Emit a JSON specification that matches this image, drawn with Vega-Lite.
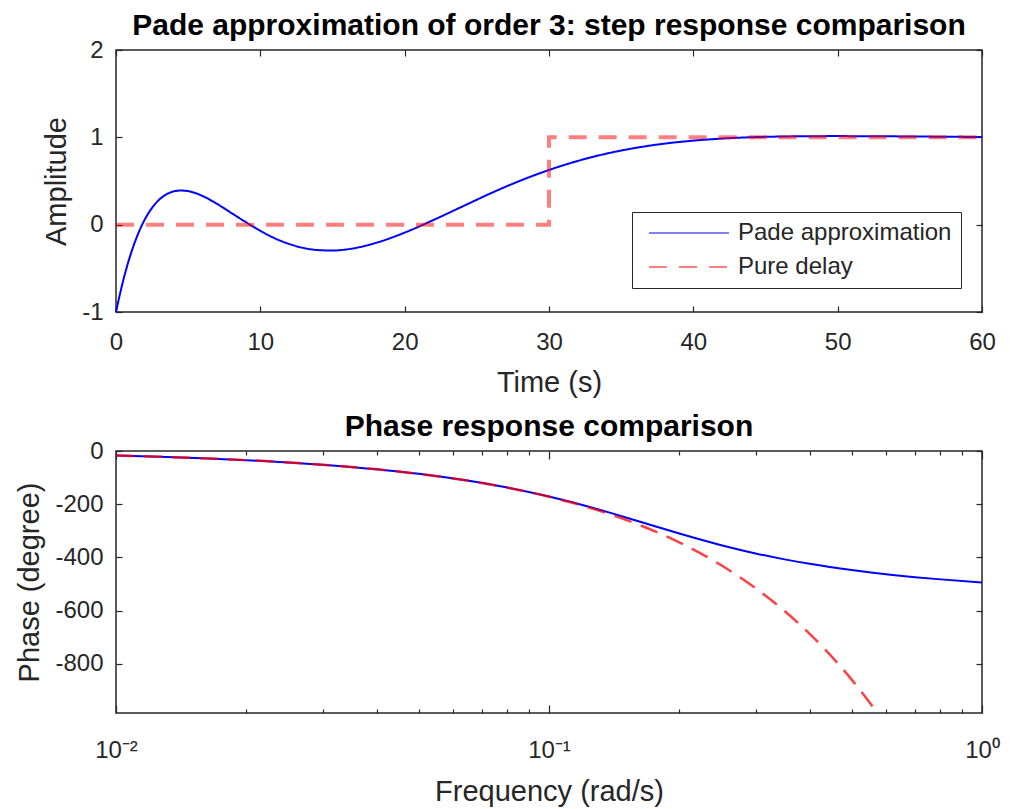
{
  "$schema": "https://vega.github.io/schema/vega-lite/v6.json",
  "background": "white",
  "padding": {"left": 15, "top": 10, "right": 10, "bottom": 5},
  "datasets": {
    "step": [
      {"series": "Pade approximation", "n": 0, "t": 0, "y": -1},
      {"series": "Pade approximation", "n": 1, "t": 0.25, "y": -0.811},
      {"series": "Pade approximation", "n": 2, "t": 0.5, "y": -0.639},
      {"series": "Pade approximation", "n": 3, "t": 0.75, "y": -0.485},
      {"series": "Pade approximation", "n": 4, "t": 1, "y": -0.348},
      {"series": "Pade approximation", "n": 5, "t": 1.5, "y": -0.117},
      {"series": "Pade approximation", "n": 6, "t": 2, "y": 0.061},
      {"series": "Pade approximation", "n": 7, "t": 2.5, "y": 0.193},
      {"series": "Pade approximation", "n": 8, "t": 3, "y": 0.287},
      {"series": "Pade approximation", "n": 9, "t": 3.5, "y": 0.348},
      {"series": "Pade approximation", "n": 10, "t": 4, "y": 0.381},
      {"series": "Pade approximation", "n": 11, "t": 4.5, "y": 0.391},
      {"series": "Pade approximation", "n": 12, "t": 5, "y": 0.384},
      {"series": "Pade approximation", "n": 13, "t": 6, "y": 0.328},
      {"series": "Pade approximation", "n": 14, "t": 7, "y": 0.238},
      {"series": "Pade approximation", "n": 15, "t": 8, "y": 0.133},
      {"series": "Pade approximation", "n": 16, "t": 9, "y": 0.028},
      {"series": "Pade approximation", "n": 17, "t": 10, "y": -0.071},
      {"series": "Pade approximation", "n": 18, "t": 11, "y": -0.156},
      {"series": "Pade approximation", "n": 19, "t": 12, "y": -0.221},
      {"series": "Pade approximation", "n": 20, "t": 13, "y": -0.267},
      {"series": "Pade approximation", "n": 21, "t": 14, "y": -0.291},
      {"series": "Pade approximation", "n": 22, "t": 15, "y": -0.296},
      {"series": "Pade approximation", "n": 23, "t": 16, "y": -0.283},
      {"series": "Pade approximation", "n": 24, "t": 18, "y": -0.209},
      {"series": "Pade approximation", "n": 25, "t": 20, "y": -0.091},
      {"series": "Pade approximation", "n": 26, "t": 22, "y": 0.054},
      {"series": "Pade approximation", "n": 27, "t": 24, "y": 0.208},
      {"series": "Pade approximation", "n": 28, "t": 26, "y": 0.362},
      {"series": "Pade approximation", "n": 29, "t": 28, "y": 0.503},
      {"series": "Pade approximation", "n": 30, "t": 30, "y": 0.626},
      {"series": "Pade approximation", "n": 31, "t": 32, "y": 0.730},
      {"series": "Pade approximation", "n": 32, "t": 34, "y": 0.814},
      {"series": "Pade approximation", "n": 33, "t": 36, "y": 0.879},
      {"series": "Pade approximation", "n": 34, "t": 38, "y": 0.928},
      {"series": "Pade approximation", "n": 35, "t": 40, "y": 0.962},
      {"series": "Pade approximation", "n": 36, "t": 42, "y": 0.986},
      {"series": "Pade approximation", "n": 37, "t": 44, "y": 1.001},
      {"series": "Pade approximation", "n": 38, "t": 46, "y": 1.009},
      {"series": "Pade approximation", "n": 39, "t": 48, "y": 1.013},
      {"series": "Pade approximation", "n": 40, "t": 50, "y": 1.014},
      {"series": "Pade approximation", "n": 41, "t": 52, "y": 1.013},
      {"series": "Pade approximation", "n": 42, "t": 55, "y": 1.010},
      {"series": "Pade approximation", "n": 43, "t": 58, "y": 1.006},
      {"series": "Pade approximation", "n": 44, "t": 60, "y": 1.004},
      {"series": "Pure delay", "n": 0, "t": 0, "y": 0},
      {"series": "Pure delay", "n": 1, "t": 30, "y": 0},
      {"series": "Pure delay", "n": 2, "t": 30, "y": 1},
      {"series": "Pure delay", "n": 3, "t": 60, "y": 1}
    ],
    "phase": [
      {"w": 0.01, "pade": -17.19, "delay": -17.19},
      {"w": 0.0126, "pade": -21.66, "delay": -21.66},
      {"w": 0.0158, "pade": -27.16, "delay": -27.16},
      {"w": 0.02, "pade": -34.39, "delay": -34.38},
      {"w": 0.025, "pade": -42.97, "delay": -42.97},
      {"w": 0.0316, "pade": -54.32, "delay": -54.32},
      {"w": 0.04, "pade": -68.75, "delay": -68.75},
      {"w": 0.05, "pade": -85.94, "delay": -85.94},
      {"w": 0.063, "pade": -108.26, "delay": -108.29},
      {"w": 0.079, "pade": -135.62, "delay": -135.79},
      {"w": 0.1, "pade": -171.04, "delay": -171.89},
      {"w": 0.126, "pade": -213.16, "delay": -216.58},
      {"w": 0.14, "pade": -234.5, "delay": -240.64},
      {"w": 0.158, "pade": -260.1, "delay": -271.58},
      {"w": 0.178, "pade": -285.8, "delay": -305.96},
      {"w": 0.2, "pade": -310.4, "delay": -343.77},
      {"w": 0.25, "pade": -354.2, "delay": -429.72},
      {"w": 0.3, "pade": -385.0, "delay": -515.66},
      {"w": 0.35, "pade": -407.4, "delay": -601.6},
      {"w": 0.4, "pade": -424.2, "delay": -687.55},
      {"w": 0.5, "pade": -447.6, "delay": -859.44},
      {"w": 0.56, "pade": -457.6, "delay": -962.57},
      {"w": 0.6, "pade": -463.2, "delay": -1031.32},
      {"w": 0.63, "pade": -466.9, "delay": -1082.9},
      {"w": 0.7, "pade": -474.3, "delay": -1203.2},
      {"w": 0.79, "pade": -481.7, "delay": -1357.9},
      {"w": 1, "pade": -494.1, "delay": -1718.9}
    ]
  },
  "config": {
    "font": "Liberation Sans",
    "view": {"stroke": "#262626", "strokeWidth": 1.5},
    "axis": {
      "grid": false, "domain": false, "ticks": true,
      "labelFont": "Liberation Sans", "labelFontSize": 24, "labelColor": "#262626",
      "titleFont": "Liberation Sans", "titleFontSize": 29, "titleFontWeight": "normal", "titleColor": "#262626",
      "tickColor": "#262626", "tickSize": -6, "tickWidth": 1.2,
      "labelFlush": false, "labelOverlap": false
    },
    "title": {"font": "Liberation Sans", "fontSize": 30, "fontWeight": "bold", "color": "#000000", "offset": -3},
    "legend": {"strokeColor": "#262626", "strokeWidth": 1, "fillColor": "#ffffff"}
  },
  "spacing": 13,
  "vconcat": [
    {
      "title": "Pade approximation of order 3: step response comparison",
      "width": 866,
      "height": 262,
      "data": {"name": "step"},
      "layer": [
        {
          "transform": [{"filter": "datum.series === 'Pade approximation'"}],
          "mark": {"type": "line", "interpolate": "monotone", "strokeWidth": 2},
          "encoding": {
            "x": {"field": "t", "type": "quantitative", "scale": {"domain": [0, 60], "nice": false},
                  "axis": {"orient": "bottom", "title": "Time (s)", "values": [0, 10, 20, 30, 40, 50, 60], "labelPadding": 24, "titlePadding": 14}},
            "y": {"field": "y", "type": "quantitative", "scale": {"domain": [-1, 2], "nice": false},
                  "axis": {"orient": "left", "title": "Amplitude", "values": [-1, 0, 1, 2], "labelExpr": "replace(datum.label, '−', '-')", "labelPadding": 19, "titlePadding": 10}},
            "color": {"field": "series", "type": "nominal",
                      "scale": {"domain": ["Pade approximation", "Pure delay"], "range": ["#0000ff", "#ff0000"]},
                      "legend": {"title": null, "orient": "none", "legendX": 516, "legendY": 162,
                                 "symbolType": "stroke", "symbolSize": 6400, "symbolStrokeWidth": 2, "symbolOpacity": 1,
                                 "symbolOffset": 7, "labelOffset": 8, "labelLimit": 500, "labelFont": "Liberation Sans", "labelFontSize": 24, "labelColor": "#262626",
                                 "padding": 9, "clipHeight": 24, "rowPadding": 10}},
            "strokeDash": {"field": "series", "type": "nominal",
                           "scale": {"domain": ["Pade approximation", "Pure delay"], "range": [[1, 0], [18, 12]]}},
            "order": {"field": "n", "type": "quantitative"}
          }
        },
        {
          "transform": [{"filter": "datum.series === 'Pure delay'"}],
          "mark": {"type": "line", "strokeWidth": 4, "opacity": 0.5},
          "encoding": {
            "x": {"field": "t", "type": "quantitative", "scale": {"domain": [0, 60], "nice": false},
                  "axis": {"orient": "top", "title": null, "labels": false, "values": [0, 10, 20, 30, 40, 50, 60]}},
            "y": {"field": "y", "type": "quantitative", "scale": {"domain": [-1, 2], "nice": false},
                  "axis": {"orient": "right", "title": null, "labels": false, "values": [-1, 0, 1, 2]}},
            "color": {"field": "series", "type": "nominal",
                      "scale": {"domain": ["Pade approximation", "Pure delay"], "range": ["#0000ff", "#ff0000"]}},
            "strokeDash": {"field": "series", "type": "nominal",
                           "scale": {"domain": ["Pade approximation", "Pure delay"], "range": [[1, 0], [18, 12]]}},
            "order": {"field": "n", "type": "quantitative"}
          }
        }
      ],
      "resolve": {"axis": {"x": "independent", "y": "independent"}}
    },
    {
      "title": "Phase response comparison",
      "width": 866,
      "height": 262,
      "data": {"name": "phase"},
      "layer": [
        {
          "mark": {"type": "line", "interpolate": "monotone", "color": "#0000ff", "strokeWidth": 2, "clip": true},
          "encoding": {
            "x": {"field": "w", "type": "quantitative", "scale": {"type": "log", "domain": [0.01, 1], "nice": false},
                  "axis": {"orient": "bottom", "title": "Frequency (rad/s)",
                           "values": [0.01, 0.02, 0.03, 0.04, 0.05, 0.06, 0.07, 0.08, 0.09, 0.1, 0.2, 0.3, 0.4, 0.5, 0.6, 0.7, 0.8, 0.9, 1],
                           "labelExpr": "datum.value === 0.01 ? '10⁻²' : datum.value === 0.1 ? '10⁻¹' : datum.value === 1 ? '10⁰' : ''",
                           "tickSize": {"condition": {"test": "datum.value === 0.01 || datum.value === 0.1 || datum.value === 1", "value": -8}, "value": -4},
                           "labelPadding": 33, "titlePadding": 11}},
            "y": {"field": "pade", "type": "quantitative", "scale": {"domain": [-985, 0], "nice": false},
                  "axis": {"orient": "left", "title": "Phase (degree)", "values": [-800, -600, -400, -200, 0], "labelExpr": "replace(datum.label, '−', '-')", "labelPadding": 19, "titlePadding": 10}}
          }
        },
        {
          "mark": {"type": "line", "interpolate": "monotone", "color": "#ff0000", "strokeWidth": 2.5, "opacity": 0.75, "strokeDash": [18, 10], "clip": true},
          "encoding": {
            "x": {"field": "w", "type": "quantitative", "scale": {"type": "log", "domain": [0.01, 1], "nice": false},
                  "axis": {"orient": "top", "title": null, "labels": false,
                           "values": [0.01, 0.02, 0.03, 0.04, 0.05, 0.06, 0.07, 0.08, 0.09, 0.1, 0.2, 0.3, 0.4, 0.5, 0.6, 0.7, 0.8, 0.9, 1],
                           "tickSize": {"condition": {"test": "datum.value === 0.01 || datum.value === 0.1 || datum.value === 1", "value": -8}, "value": -4}}},
            "y": {"field": "delay", "type": "quantitative", "scale": {"domain": [-985, 0], "nice": false},
                  "axis": {"orient": "right", "title": null, "labels": false, "values": [-800, -600, -400, -200, 0]}}
          }
        }
      ],
      "resolve": {"axis": {"x": "independent", "y": "independent"}}
    }
  ]
}
